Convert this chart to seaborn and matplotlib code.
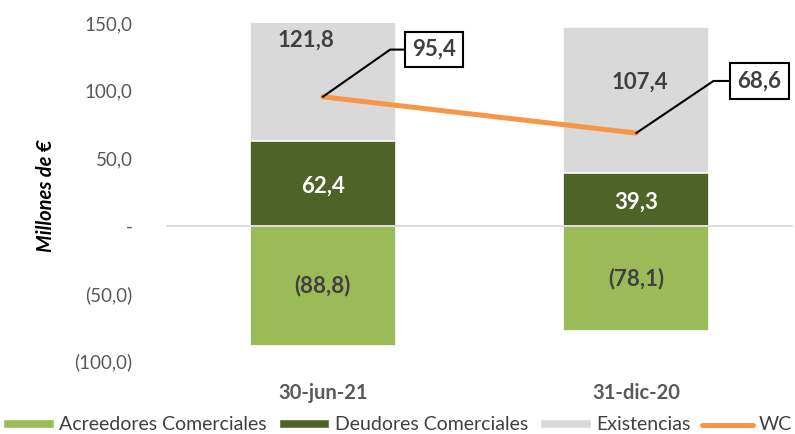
import numpy as np
import pandas as pd
import matplotlib
matplotlib.use("Agg")
import matplotlib.pyplot as plt
from matplotlib.patches import Patch
from matplotlib.lines import Line2D
from matplotlib.ticker import FuncFormatter
import seaborn as sns

# Working capital components (millions of euros)
fechas = ["30-jun-21", "31-dic-20"]
acreedores = [-88.8, -78.1]
deudores = [62.4, 39.3]
existencias = [121.8, 107.4]
wc = [95.4, 68.6]
y_ticks = [-100, -50, 0, 50, 100, 150]

C_ACR = "#9BBB59"
C_DEU = "#4F6228"
C_EXI = "#D9D9D9"
C_WC = "#F79646"
C_TXT = "#404040"
C_TICK = "#595959"

sns.set_theme(style="white")
plt.rcParams["font.family"] = ["Lato", "DejaVu Sans"]

df = pd.DataFrame({
    "fecha": fechas,
    "acreedores": acreedores,
    "deudores": deudores,
    "existencias": existencias,
    "wc": wc,
})
df["activo"] = df["deudores"] + df["existencias"]


def fmt(v):
    if abs(v) < 1e-9:
        return "-"
    s = f"{abs(v):.1f}".replace(".", ",")
    return f"({s})" if v < 0 else s


fig = plt.figure(figsize=(7.95, 4.34), dpi=100)
ax = fig.add_axes([166 / 795, 1 - 361 / 434, 627 / 795, 338 / 434])

bar_kw = dict(x="fecha", width=0.466, saturation=1, errorbar=None,
              edgecolor="white", linewidth=1.2, ax=ax)
# stacked positive part: total first, then the lower segment on top of it
sns.barplot(data=df, y="activo", color=C_EXI, **bar_kw)
sns.barplot(data=df, y="deudores", color=C_DEU, **bar_kw)
sns.barplot(data=df, y="acreedores", color=C_ACR, **bar_kw)

ax.axhline(0, color="#D9D9D9", lw=1.3, zorder=1.5)

xpos = np.arange(len(fechas))
sns.lineplot(x=xpos, y=df["wc"].to_numpy(), color=C_WC, lw=3.6, ax=ax,
             sort=False, zorder=3)

# segment labels
lab_kw = dict(ha="center", va="center", fontsize=16, fontweight="bold")
exi_label_x = [-0.055, 0.01]
exi_label_y = [137.5, 106.4]
for i in range(len(fechas)):
    ax.text(i, acreedores[i] / 2, fmt(acreedores[i]), color=C_TXT, **lab_kw)
    ax.text(i, deudores[i] / 2 - 2, fmt(deudores[i]), color="white", **lab_kw)
    ax.text(i + exi_label_x[i], exi_label_y[i], fmt(existencias[i]),
            color=C_TXT, **lab_kw)

# WC callouts with leader lines
callout_offsets = [(80, 34, 35), (88.5, 37.5, 34)]
for i, (dx, dy, ang) in enumerate(callout_offsets):
    ax.annotate(
        fmt(wc[i]), xy=(i, wc[i]), xytext=(dx, dy), textcoords="offset points",
        ha="center", va="center", fontsize=16, fontweight="bold", color=C_TXT,
        bbox=dict(boxstyle="square,pad=0.33", fc="white", ec="black", lw=1.5),
        arrowprops=dict(arrowstyle="-", color="black", lw=1.5, shrinkA=0,
                        shrinkB=0,
                        connectionstyle=f"angle,angleA=0,angleB={ang},rad=0"),
        zorder=4,
    )

ax.set_ylim(-100, 150)
ax.set_xlim(-0.5, len(fechas) - 0.5)
ax.set_yticks(y_ticks)
ax.yaxis.set_major_formatter(FuncFormatter(lambda v, _: fmt(v)))
ax.set_xticks(xpos, fechas)
ax.tick_params(axis="y", length=0, pad=24, labelsize=13.5, labelcolor=C_TICK)
ax.tick_params(axis="x", length=0, pad=16, labelsize=14.5, labelcolor=C_TICK)
for lbl in ax.get_xticklabels():
    lbl.set_fontweight("bold")

ax.set_xlabel("")
ax.set_ylabel("Millones de €", fontsize=14.5, fontweight="bold",
              fontstyle="italic", color="black")
ax.yaxis.set_label_coords(-0.175, 0.49)
sns.despine(ax=ax, left=True, bottom=True)

handles = [
    Patch(fc=C_ACR, label="Acreedores Comerciales"),
    Patch(fc=C_DEU, label="Deudores Comerciales"),
    Patch(fc=C_EXI, label="Existencias"),
    Line2D([], [], color=C_WC, lw=3.6, label="WC"),
]
fig.legend(handles=handles, loc="center", bbox_to_anchor=(0.5, 1 - 425 / 434),
           ncol=4, frameon=False, fontsize=14, handlelength=2.6,
           handleheight=0.4, handletextpad=0.3, columnspacing=0.6,
           labelcolor=C_TXT)

fig.savefig("out.png", dpi=100)
